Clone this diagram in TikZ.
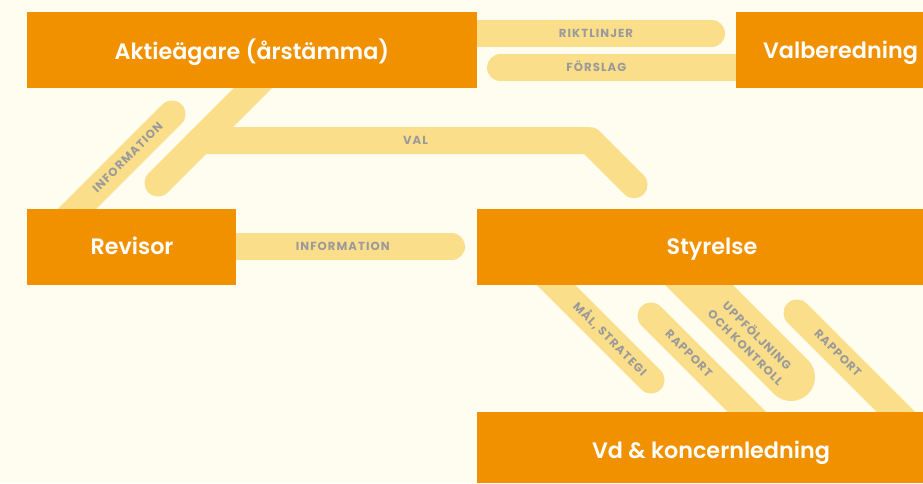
\documentclass[tikz,border=0pt]{standalone}
\usepackage{fontspec}
\setmainfont{Poppins}
\newfontfamily\labfont[LetterSpace=9]{Poppins}
\newfontfamily\titlefont{Poppins SemiBold}
\usetikzlibrary{backgrounds}
\definecolor{bgc}{HTML}{FFFCF0}
\definecolor{org}{HTML}{F29100}
\definecolor{bandc}{HTML}{FADE8A}
\definecolor{lblc}{HTML}{9A9A9A}
\begin{document}
\begin{tikzpicture}[x=1pt,y=-1pt,
  box/.style={fill=org, draw=none, inner sep=0pt, outer sep=0pt},
  titletxt/.style={text=white, font=\fontsize{22.3}{26}\selectfont\titlefont, anchor=base, inner sep=0pt},
  bandline/.style={draw=bandc, line width=27pt, line cap=round, line join=round},
  labbase/.style={text=lblc, font=\fontsize{11.7}{16.5}\selectfont\labfont\bfseries, inner sep=0pt, align=center},
  lab/.style={labbase, text height=8.3pt, text depth=0pt}]
\useasboundingbox (0,0) rectangle (923,483);
% boxes
\node[box, minimum width=449.5pt, minimum height=75.5pt] (akt) at (251.75,49.75) {};
\node[box, minimum width=187pt, minimum height=75.5pt] (val) at (829.5,49.75) {};
\node[box, minimum width=209pt, minimum height=75.5pt] (rev) at (131.5,246.75) {};
\node[box, minimum width=446pt, minimum height=75.5pt] (sty) at (700,246.75) {};
\node[box, minimum width=446pt, minimum height=71.3pt] (vd) at (700,447.35) {};
% titles
\node[titletxt] (taktie) at (252,59.3) {Aktieägare (årstämma)};
\node[titletxt] (tval) at (840.5,58.3) {Valberedning};
\node[titletxt] (trev) at (132,254.3) {Revisor};
\node[titletxt] (tsty) at (712,254.5) {Styrelse};
\node[titletxt] (tvd) at (711,458) {Vd \& koncernledning};
% free ends of connectors
\coordinate (rikEnd) at (711.5,33.5);
\coordinate (forStart) at (500.5,67.7);
\coordinate (valDiagEnd) at (158,183);
\coordinate (valDiagTop) at (268,73);
\coordinate (valJoin) at (200.3,140.7);
\coordinate (valBend) at (590,140.7);
\coordinate (valEnd) at (634,184.7);
\coordinate (infTop) at (172,114);
\coordinate (infBot) at (53,233);
\coordinate (infEnd) at (451.5,246.7);
\coordinate (malA) at (540,269);
\coordinate (malB) at (651,380);
\coordinate (rapA) at (651,316);
\coordinate (rapB) at (767,432);
\coordinate (uppA) at (683,269);
\coordinate (uppB) at (791,377);
\coordinate (rap2A) at (797,313);
\coordinate (rap2B) at (917,433);
\begin{scope}[on background layer]
\fill[bgc] (0,0) rectangle (923,483);
\draw[bandline] (akt.center |- rikEnd) -- (rikEnd);
\draw[bandline] (forStart) -- (val.center |- forStart);
\draw[bandline] (valDiagTop) -- (valDiagEnd);
\draw[bandline] (valJoin) -- (valBend) -- (valEnd);
\draw[bandline] (infTop) -- (infBot);
\draw[bandline] (rev.center |- infEnd) -- (infEnd);
\draw[bandline] (malA) -- (malB);
\draw[bandline] (rapA) -- (rapB);
\draw[bandline, line width=48pt] (uppA) -- (uppB);
\draw[bandline] (rap2A) -- (rap2B);
\end{scope}
% labels
\node[lab] (lrik) at (596,33.5) {RIKTLINJER};
\node[lab] (lfor) at (596.3,67.7) {FÖRSLAG};
\node[lab] (lval) at (415.5,140.7) {VAL};
\node[lab] (linf) at (342.8,246.7) {INFORMATION};
\node[lab, rotate=45] (linf2) at (127.5,157.5) {INFORMATION};
\node[lab, rotate=-45] (lmal) at (610,339) {MÅL, STRATEGI};
\node[lab, rotate=-45] (lrap) at (689,353.5) {RAPPORT};
\node[labbase, rotate=-45] (lupp) at (752,341) {UPPFÖLJNING\\OCH KONTROLL};
\node[lab, rotate=-45] (lrap2) at (838,353) {RAPPORT};
\end{tikzpicture}
\end{document}
